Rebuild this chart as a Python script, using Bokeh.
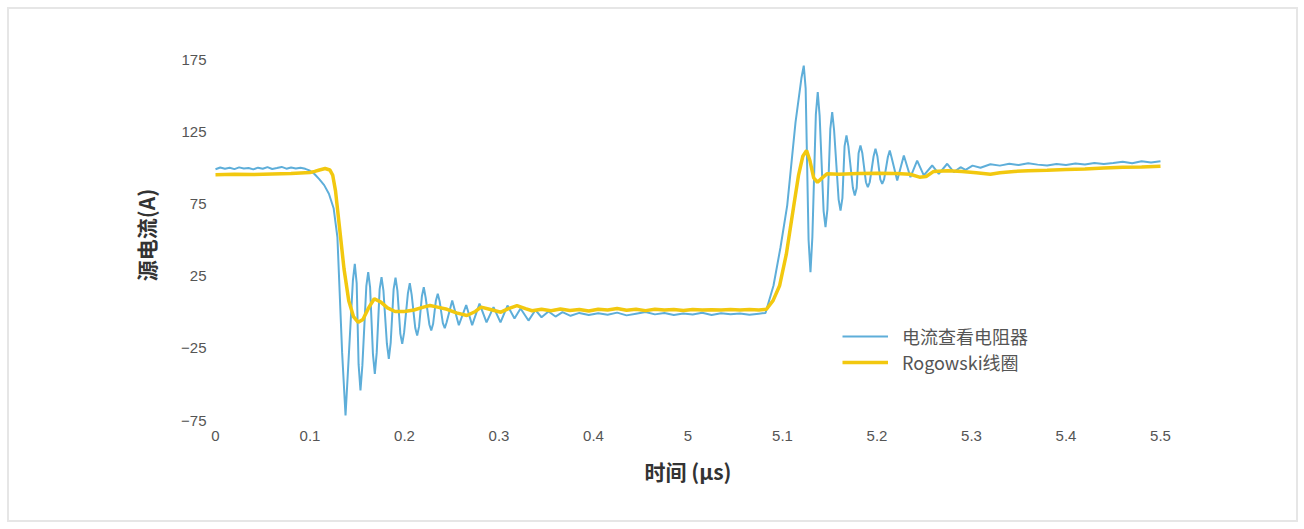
from bokeh.plotting import figure
from bokeh.models import FixedTicker, Legend, LegendItem, Range1d
from bokeh.embed import file_html
from bokeh.resources import INLINE

# x positions are axis slots (0..10); the axis is broken between 0.4 and 5 µs
x_tick_pos = [0, 1, 2, 3, 4, 5, 6, 7, 8, 9, 10]
x_tick_labels = ["0", "0.1", "0.2", "0.3", "0.4", "5", "5.1", "5.2", "5.3", "5.4", "5.5"]
y_ticks = [-75, -25, 25, 75, 125, 175]
y_tick_labels = ["\u221275", "\u221225", "25", "75", "125", "175"]

series_names = ["电流查看电阻器", "Rogowski线圈"]

blue_x = [0.00, 0.05, 0.10, 0.15, 0.20, 0.25, 0.30, 0.35, 0.40, 0.45, 0.50, 0.55, 0.60, 0.65,
          0.70, 0.75, 0.80, 0.85, 0.90, 0.95, 1.00, 1.05, 1.10, 1.15, 1.20, 1.25, 1.29, 1.34,
          1.376, 1.454, 1.474, 1.494, 1.514, 1.534, 1.554, 1.596, 1.616, 1.636, 1.666, 1.686,
          1.706, 1.737, 1.757, 1.777, 1.814, 1.834, 1.854, 1.885, 1.905, 1.925, 1.956, 1.976,
          1.996, 2.036, 2.056, 2.076, 2.114, 2.134, 2.154, 2.184, 2.204, 2.224, 2.263, 2.283,
          2.303, 2.332, 2.352, 2.372, 2.406, 2.426, 2.446, 2.505, 2.575, 2.653, 2.716, 2.794,
          2.868, 2.942, 3.016, 3.090, 3.164, 3.228, 3.312, 3.386, 3.450, 3.524, 3.598, 3.672,
          3.757, 3.85, 3.95, 4.05, 4.15, 4.25, 4.35, 4.45, 4.55, 4.65, 4.75, 4.85, 4.95, 5.05,
          5.15, 5.25, 5.35, 5.45, 5.55, 5.65, 5.75, 5.82, 5.905, 5.979, 6.050, 6.138, 6.20,
          6.225, 6.245, 6.276, 6.296, 6.316, 6.353, 6.373, 6.393, 6.435, 6.455, 6.475, 6.506,
          6.526, 6.546, 6.594, 6.614, 6.634, 6.657, 6.677, 6.697, 6.745, 6.765, 6.785, 6.805,
          6.825, 6.845, 6.883, 6.903, 6.923, 6.964, 6.984, 7.004, 7.035, 7.055, 7.075, 7.115,
          7.135, 7.155, 7.214, 7.284, 7.354, 7.425, 7.495, 7.584, 7.654, 7.743, 7.813, 7.884,
          7.937, 8.011, 8.095, 8.2, 8.3, 8.4, 8.5, 8.6, 8.7, 8.8, 8.9, 9.0, 9.1, 9.2, 9.3,
          9.4, 9.5, 9.6, 9.7, 9.8, 9.9, 10.0]
blue_y = [99.0, 100.2, 99.4, 100.0, 99.1, 100.3, 99.5, 99.9, 98.9, 100.1, 99.3, 100.5, 99.2, 99.8,
          100.6, 99.4, 100.2, 99.5, 100.0, 99.3, 98.0, 95.5, 92.0, 88.0, 82.0, 72.0, 52.0, -28.0,
          -71.5, 22.0, 33.5, 20.0, -36.0, -54.2, -37.0, 18.0, 27.7, 17.0, -29.0, -42.7,
          -28.0, 16.0, 24.3, 15.0, -22.0, -32.3, -21.0, 16.0, 24.0, 15.0, -15.0, -21.9,
          -14.0, 13.0, 20.1, 12.0, -11.0, -16.1, -10.0, 11.0, 17.3, 10.0, -8.5, -12.7,
          -8.0, 8.0, 12.7, 7.5, -7.5, -11.0, -7.0, 8.1, -9.0, 5.0, -9.0, 6.0,
          -7.0, 3.5, -7.0, 4.6, -4.4, 2.6, -5.8, 1.5, -3.5, 0.5, -3.0, 0.0,
          -2.5, -0.5, -2.0, -0.8, -1.8, -0.3, -2.2, -1.0, 0.2, -1.5, -0.6, -2.0, -0.9, -1.6,
          -0.4, -1.9, -0.7, -1.5, -0.9, -1.8, -1.0, -0.5, 18.5, 45.0, 74.0, 131.6, 162.0,
          170.8, 155.0, 50.0, 27.7, 52.0, 137.0, 152.4, 136.0, 70.0, 58.9, 71.0, 127.0,
          138.5, 126.0, 78.0, 70.4, 79.0, 115.0, 122.4, 115.0, 86.0, 80.8, 86.0, 110.0,
          115.4, 110.0, 90.0, 86.6, 90.0, 108.0, 113.2, 108.0, 92.0, 88.9, 92.0, 107.5,
          112.0, 107.0, 91.2, 108.5, 93.5, 105.0, 94.7, 101.6, 95.8, 102.8, 97.0, 100.4,
          98.5, 101.5, 100.0, 102.5, 101.5, 102.8, 101.9, 103.1, 102.2, 101.6, 102.7, 102.0,
          103.0, 102.3, 103.4, 102.6, 103.3, 104.2, 103.1, 104.5, 103.6, 104.5]

yellow_x = [0.0, 0.2, 0.4, 0.6, 0.8, 1.0, 1.05, 1.10, 1.16, 1.21, 1.24, 1.27, 1.31, 1.36, 1.41,
            1.46, 1.51, 1.56, 1.62, 1.68, 1.75, 1.82, 1.90, 2.0, 2.1, 2.2, 2.27, 2.35, 2.45,
            2.55, 2.66, 2.75, 2.81, 2.9, 3.02, 3.1, 3.19, 3.28, 3.35, 3.45, 3.55, 3.65, 3.75,
            3.85, 3.95, 4.05, 4.15, 4.25, 4.35, 4.45, 4.55, 4.65, 4.75, 4.85, 4.95, 5.05, 5.15,
            5.25, 5.35, 5.45, 5.55, 5.65, 5.75, 5.83, 5.90, 5.97, 6.04, 6.12, 6.17, 6.215,
            6.255, 6.29, 6.33, 6.37, 6.42, 6.47, 6.6, 6.8, 7.0, 7.2, 7.35, 7.45, 7.52, 7.6,
            7.75, 7.9, 8.05, 8.2, 8.3, 8.45, 8.6, 8.8, 9.0, 9.2, 9.4, 9.6, 9.8, 10.0]
yellow_y = [95.2, 95.5, 95.4, 95.7, 96.0, 96.8, 97.5, 98.5, 99.5, 98.5, 95.0, 84.0, 60.0, 30.0, 8.0,
            -3.0, -7.0, -5.0, 3.0, 9.3, 7.0, 3.0, 0.5, 0.5, 1.5, 3.5, 4.6, 3.5, 2.0,
            -0.5, -2.3, 0.5, 3.5, 2.0, 0.0, 2.5, 4.6, 2.5, 1.0, 2.0, 1.0, 2.2, 1.2,
            1.8, 0.8, 2.0, 1.5, 2.5, 1.3, 2.0, 1.1, 2.0, 1.5, 1.9, 1.2, 1.8, 1.6,
            1.7, 1.5, 1.9, 1.6, 1.8, 1.6, 2.0, 8.0, 18.5, 40.0, 74.0, 95.0, 108.0,
            112.0, 105.0, 93.0, 90.0, 93.0, 95.8, 95.5, 96.0, 96.2, 96.0, 95.5, 93.5, 94.0, 97.5,
            98.0, 97.5, 96.5, 95.5, 96.5, 97.5, 98.0, 98.3, 98.8, 99.2, 99.8, 100.3, 100.6, 101.0]

BLUE = "#5eaed9"
YELLOW = "#f2c80f"

p = figure(width=1291, height=515, output_backend="svg", toolbar_location=None,
           x_range=Range1d(-5 / 94.5, 10 + 5 / 94.5),
           y_range=Range1d(-75 - 4 / 1.444, 175 + 14 / 1.444),
           min_border_left=201, min_border_right=135, min_border_top=36, min_border_bottom=100,
           background_fill_color="white", border_fill_color="white")
p.styles = {"border": "2px solid #e6e6e6", "margin-left": "7px", "margin-top": "7px"}
p.outline_line_color = None
p.xgrid.visible = False
p.ygrid.visible = False

rb = p.line(blue_x, blue_y, line_color=BLUE, line_width=2)
ry = p.line(yellow_x, yellow_y, line_color=YELLOW, line_width=3.5)

for ax in (p.xaxis[0], p.yaxis[0]):
    ax.axis_line_color = None
    ax.major_tick_line_color = None
    ax.minor_tick_line_color = None
    ax.major_tick_out = 0
    ax.major_tick_in = 0
    ax.major_label_text_font = "Liberation Sans"
    ax.major_label_text_font_size = "15px"
    ax.major_label_text_color = "#555555"
    ax.axis_label_text_font = "Noto Sans CJK SC"
    ax.axis_label_text_font_style = "bold"
    ax.axis_label_text_font_size = "21px"
    ax.axis_label_text_color = "#333333"

p.xaxis.ticker = FixedTicker(ticks=x_tick_pos)
p.xaxis.major_label_overrides = {t: l for t, l in zip(x_tick_pos, x_tick_labels)}
p.xaxis.major_label_standoff = 6
p.xaxis.axis_label = "时间 (μs)"
p.xaxis.axis_label_standoff = 12

p.yaxis.ticker = FixedTicker(ticks=y_ticks)
p.yaxis.major_label_overrides = {t: l for t, l in zip(y_ticks, y_tick_labels)}
p.yaxis.major_label_standoff = 4
p.yaxis.axis_label = "源电流(A)"
p.yaxis.axis_label_standoff = 17

legend = Legend(items=[LegendItem(label=series_names[0], renderers=[rb]),
                       LegendItem(label=series_names[1], renderers=[ry])],
                location=(632, 49), border_line_color=None, background_fill_alpha=0,
                padding=0, margin=0, spacing=0, glyph_width=46, glyph_height=24,
                label_height=24, label_standoff=14, label_text_font="Noto Sans CJK SC",
                label_text_font_size="18px", label_text_color="#555555")
p.add_layout(legend)

open("out.html", "w").write(file_html(p, INLINE))
